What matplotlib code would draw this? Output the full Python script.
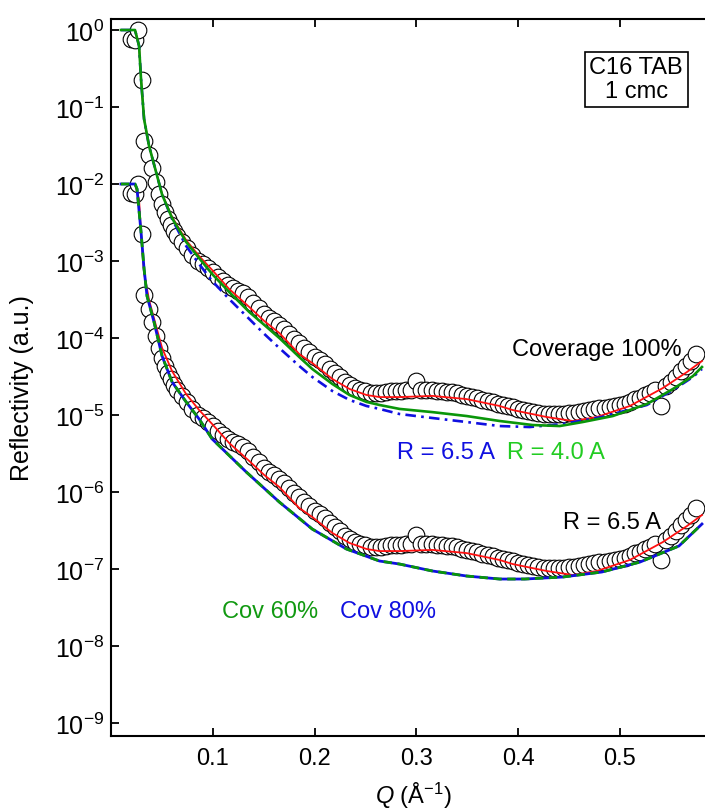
import matplotlib
matplotlib.use("Agg")
import matplotlib.pyplot as plt
from matplotlib.ticker import LogFormatterMathtext, FixedLocator

plt.rcParams['font.family'] = ['Liberation Sans', 'DejaVu Sans']
plt.rcParams['mathtext.fontset'] = 'custom'
plt.rcParams['mathtext.rm'] = 'Liberation Sans'
plt.rcParams['mathtext.it'] = 'Liberation Sans:italic'

# ---------------- data: C16TAB 1 cmc (coverage 100 %) ----------------
data_q = [0.0197, 0.0236, 0.0266, 0.0305, 0.0325, 0.0374, 0.0404, 0.0443, 0.0472, 0.0502,
          0.0531, 0.0561, 0.0591, 0.0620,
          0.065, 0.070, 0.075, 0.080, 0.085, 0.090, 0.095, 0.100, 0.105, 0.110,
          0.115, 0.120, 0.125, 0.130, 0.135, 0.140, 0.145, 0.150, 0.155, 0.160,
          0.165, 0.170, 0.175, 0.180, 0.185, 0.190, 0.195, 0.200, 0.205, 0.210,
          0.215, 0.220, 0.225, 0.230, 0.235, 0.240, 0.245, 0.250, 0.255, 0.260,
          0.265, 0.270, 0.275, 0.280, 0.285, 0.290, 0.295, 0.300, 0.305, 0.310,
          0.315, 0.320, 0.325, 0.330, 0.335, 0.340, 0.345, 0.350, 0.355, 0.360,
          0.365, 0.370, 0.375, 0.380, 0.385, 0.390, 0.395, 0.400, 0.405, 0.410,
          0.415, 0.420, 0.425, 0.430, 0.435, 0.440, 0.445, 0.450, 0.455, 0.460,
          0.465, 0.470, 0.475, 0.480, 0.485, 0.490, 0.495, 0.500, 0.505, 0.510,
          0.515, 0.520, 0.525, 0.530, 0.535, 0.540, 0.545, 0.550, 0.555, 0.560,
          0.565, 0.570, 0.575]
data_r = [0.76, 0.74, 1.0, 0.224, 0.0361, 0.0238, 0.0161, 0.0106, 7.41e-3, 5.50e-3,
          4.33e-3, 3.51e-3, 2.94e-3, 2.45e-3,
          2.11e-3, 1.79e-3, 1.48e-3, 1.18e-3, 1.01e-3, 9.14e-4, 8.00e-4, 7.10e-4, 6.19e-4, 5.50e-4,
          4.95e-4, 4.46e-4, 4.14e-4, 3.84e-4, 3.40e-4, 2.89e-4, 2.45e-4, 2.08e-4, 1.82e-4, 1.64e-4,
          1.48e-4, 1.31e-4, 1.13e-4, 9.70e-5, 8.61e-5, 7.41e-5, 6.58e-5, 5.75e-5, 5.18e-5, 4.59e-5,
          3.96e-5, 3.46e-5, 3.07e-5, 2.72e-5, 2.45e-5, 2.24e-5, 2.11e-5, 2.02e-5, 1.93e-5, 1.93e-5,
          1.93e-5, 1.99e-5, 2.05e-5, 2.05e-5, 2.05e-5, 2.11e-5, 2.11e-5, 2.77e-5, 2.11e-5, 2.11e-5,
          2.11e-5, 2.05e-5, 2.05e-5, 1.99e-5, 1.99e-5, 1.93e-5, 1.82e-5, 1.77e-5, 1.71e-5, 1.66e-5,
          1.57e-5, 1.52e-5, 1.48e-5, 1.39e-5, 1.35e-5, 1.31e-5, 1.27e-5, 1.20e-5, 1.16e-5, 1.13e-5,
          1.09e-5, 1.06e-5, 1.03e-5, 1.03e-5, 1.03e-5, 1.03e-5, 1.03e-5, 1.06e-5, 1.06e-5, 1.09e-5,
          1.13e-5, 1.16e-5, 1.20e-5, 1.23e-5, 1.23e-5, 1.27e-5, 1.31e-5, 1.35e-5, 1.39e-5, 1.48e-5,
          1.61e-5, 1.66e-5, 1.82e-5, 1.93e-5, 2.11e-5, 1.31e-5, 2.38e-5, 2.69e-5, 3.12e-5, 3.72e-5,
          4.33e-5, 5.02e-5, 6.19e-5]

# best fit (red)
fit_q = [0.0098, 0.0236, 0.0276, 0.0295, 0.0325, 0.0374, 0.0443, 0.0502, 0.0600, 0.0738,
         0.0866, 0.0994, 0.1161, 0.1358, 0.1506, 0.1654, 0.1850, 0.1978, 0.2175, 0.2343,
         0.2510, 0.2638, 0.2835, 0.3159, 0.3494, 0.3819, 0.3947, 0.4281, 0.4537, 0.4774,
         0.5098, 0.5423, 0.5659, 0.5807]
fit_r = [1.0, 1.0, 0.62, 0.231, 0.0698, 0.0312, 0.0143, 7.41e-3, 3.72e-3, 1.87e-3,
         1.16e-3, 7.64e-4, 4.33e-4, 2.53e-4, 1.66e-4, 1.16e-4, 6.19e-5, 4.73e-5, 2.94e-5, 2.18e-5,
         1.82e-5, 1.71e-5, 1.71e-5, 1.77e-5, 1.61e-5, 1.31e-5, 1.16e-5, 9.42e-6, 8.36e-6, 9.42e-6,
         1.31e-5, 2.24e-5, 3.61e-5, 5.02e-5]

# R = 4.0 A (green, upper)
r40_q = [0.0098, 0.0236, 0.0276, 0.0295, 0.0325, 0.0374, 0.0443, 0.0502, 0.0600, 0.0738,
         0.0866, 0.0994, 0.1161, 0.1358, 0.1506, 0.1654, 0.1850, 0.1978, 0.2175, 0.2343,
         0.2510, 0.2638, 0.2835, 0.3159, 0.3494, 0.3819, 0.4144, 0.4409, 0.4636, 0.4931,
         0.5266, 0.5522, 0.5719, 0.5807]
r40_r = [1.0, 1.0, 0.62, 0.231, 0.0698, 0.0312, 0.0143, 7.3e-3, 3.61e-3, 1.77e-3,
         1.09e-3, 6.78e-4, 3.96e-4, 2.18e-4, 1.48e-4, 1.0e-4, 5.66e-5, 3.96e-5, 2.53e-5, 1.82e-5,
         1.48e-5, 1.35e-5, 1.20e-5, 1.09e-5, 9.70e-6, 8.36e-6, 7.41e-6, 7.19e-6, 8.11e-6, 9.70e-6,
         1.39e-5, 2.18e-5, 3.21e-5, 4.20e-5]

# R = 6.5 A (blue dash-dot, upper)
r65_q = [0.0098, 0.0236, 0.0276, 0.0295, 0.0325, 0.0374, 0.0443, 0.0502, 0.0600, 0.0738,
         0.0866, 0.0994, 0.1161, 0.1358, 0.1506, 0.1654, 0.1850, 0.1978, 0.2175, 0.2343,
         0.2510, 0.2638, 0.2835, 0.3159, 0.3494, 0.3819, 0.4114, 0.4439, 0.4823, 0.5266,
         0.5522, 0.5719, 0.5807]
r65_r = [1.0, 1.0, 0.62, 0.231, 0.0698, 0.0312, 0.0143, 7.3e-3, 3.51e-3, 1.57e-3,
         9.14e-4, 5.50e-4, 3.21e-4, 1.77e-4, 1.13e-4, 7.41e-5, 4.33e-5, 3.12e-5, 2.05e-5, 1.57e-5,
         1.31e-5, 1.20e-5, 1.03e-5, 9.14e-6, 8.11e-6, 7.19e-6, 6.98e-6, 7.64e-6, 9.42e-6, 1.35e-5,
         2.11e-5, 3.12e-5, 3.96e-5]

# lower set (offset by 1e-2): coverage 60 % and 80 %
offset = 1e-2
cov_q = [0.0098, 0.0236, 0.0256, 0.0295, 0.0325, 0.0354, 0.0423, 0.0502, 0.0600, 0.0738,
         0.0866, 0.0994, 0.1329, 0.1654, 0.1978, 0.2313, 0.2638, 0.2835, 0.3159, 0.3494,
         0.3819, 0.4065, 0.4439, 0.4823, 0.5197, 0.5581, 0.5807]
cov80_r = [1e-2, 1e-2, 8.61e-3, 2.38e-3, 7.87e-4, 3.51e-4, 1.61e-4, 5.83e-5, 2.69e-5, 1.48e-5,
           8.87e-6, 4.88e-6, 1.82e-6, 7.41e-7, 3.30e-7, 1.82e-7, 1.27e-7, 1.16e-7, 9.42e-8, 8.11e-8,
           7.41e-8, 7.41e-8, 7.87e-8, 9.14e-8, 1.23e-7, 1.99e-7, 3.84e-7]
cov60_r = [1e-2, 1e-2, 8.61e-3, 2.38e-3, 7.87e-4, 3.51e-4, 1.61e-4, 5.83e-5, 2.69e-5, 1.48e-5,
           8.87e-6, 4.88e-6, 1.82e-6, 7.41e-7, 3.30e-7, 1.82e-7, 1.27e-7, 1.16e-7, 9.42e-8, 8.11e-8,
           7.41e-8, 7.41e-8, 7.87e-8, 9.14e-8, 1.23e-7, 1.99e-7, 3.84e-7]

x_ticks = [0.1, 0.2, 0.3, 0.4, 0.5]
x_labels = ['0.1', '0.2', '0.3', '0.4', '0.5']
y_ticks = [1e0, 1e-1, 1e-2, 1e-3, 1e-4, 1e-5, 1e-6, 1e-7, 1e-8, 1e-9]

RED = '#ff1010'
GREEN = '#0a960a'
BLUE = '#1010e0'

fig = plt.figure(figsize=(7.05, 8.12), dpi=100)
ax = fig.add_axes([111 / 705, 1 - 737 / 812, (721.6 - 111) / 705, (737 - 20) / 812])

# data
mk = dict(marker='o', ls='none', ms=12, mfc='white', mec='black', mew=0.8, zorder=2)
ax.plot(data_q, data_r, **mk)
ax.plot(data_q, [v * offset for v in data_r], **mk)

# upper fits
ax.plot(fit_q, fit_r, color=RED, lw=1.3, zorder=3)
ax.plot(r65_q, r65_r, color=BLUE, lw=1.9, dashes=[4, 2, 1, 2], zorder=4)
ax.plot(r40_q, r40_r, color=GREEN, lw=1.9, zorder=5)

# lower fits
ax.plot(fit_q, [v * offset for v in fit_r], color=RED, lw=1.3, zorder=3)
ax.plot(cov_q, cov80_r, color=BLUE, lw=2.0, zorder=4)
ax.plot(cov_q, cov60_r, color=GREEN, lw=2.0, dashes=[3, 2], zorder=5)

ax.set_yscale('log')
ax.set_xlim(0, 0.6)
ax.set_ylim(6.78e-10, 1.39)

ax.xaxis.set_major_locator(FixedLocator(x_ticks))
ax.set_xticklabels(x_labels)
ax.yaxis.set_major_locator(FixedLocator(y_ticks))
ax.yaxis.set_minor_locator(plt.NullLocator())
ax.yaxis.set_major_formatter(LogFormatterMathtext())
ax.tick_params(axis='both', which='major', direction='in', length=6, width=1.3,
               top=True, right=False)
ax.tick_params(axis='x', labelsize=17, pad=8)
ax.tick_params(axis='y', labelsize=18, pad=5)
for s in ['left', 'bottom', 'top']:
    ax.spines[s].set_linewidth(1.5)
ax.spines['right'].set_visible(False)

fig.text(22 / 705, 1 - 388 / 812, 'Reflectivity (a.u.)', rotation=90,
         ha='center', va='center', fontsize=18)
fig.text(413 / 705, 1 - 796 / 812, r'$Q$ (Å$^{-1}$)', ha='center', va='center', fontsize=17)

# annotations
ax.text(0.4775, 7.2e-5, 'Coverage 100%', ha='center', va='center', fontsize=17, color='black')
ax.text(0.281, 3.3e-6, 'R = 6.5 A', ha='left', va='center', fontsize=17, color=BLUE)
ax.text(0.389, 3.3e-6, 'R = 4.0 A', ha='left', va='center', fontsize=17, color='#22cc22')
ax.text(0.444, 4.1e-7, 'R = 6.5 A', ha='left', va='center', fontsize=17, color='black')
ax.text(0.109, 2.85e-8, 'Cov 60%', ha='left', va='center', fontsize=17, color='#119911')
ax.text(0.225, 2.85e-8, 'Cov 80%', ha='left', va='center', fontsize=17, color=BLUE)
ax.text(0.86, 0.916, 'C16 TAB\n1 cmc', transform=ax.transAxes, ha='center', va='center',
        fontsize=17, linespacing=1.1,
        bbox=dict(boxstyle='square,pad=0.2', fc='white', ec='black', lw=1.2))

fig.savefig('out.png', dpi=100)
